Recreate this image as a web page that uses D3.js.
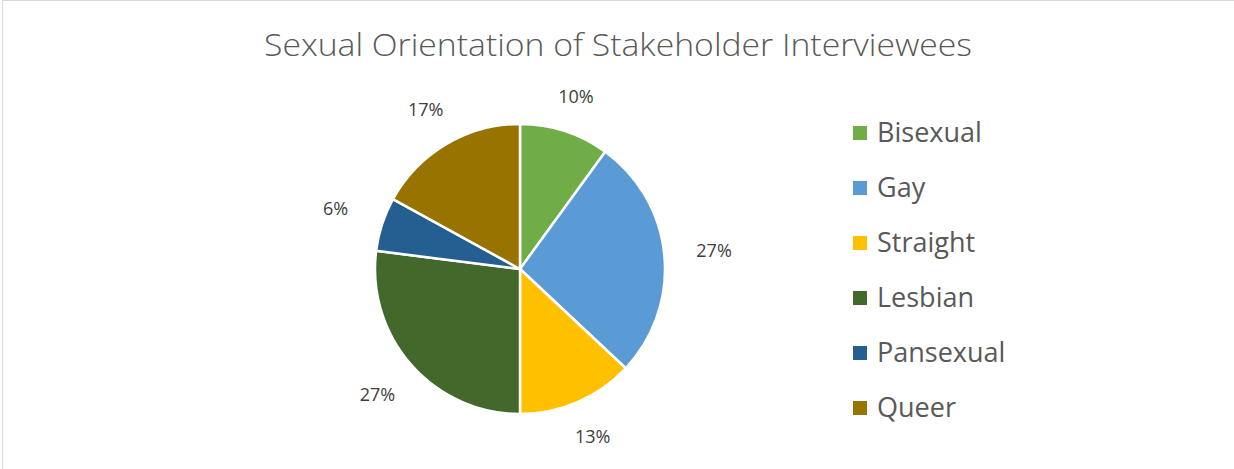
<html>
<head>
<script src="https://d3js.org/d3.v7.min.js"></script>
<style>
  body { margin: 0; background: #fff; }
  text { font-family: "Open Sans", "Liberation Sans", sans-serif; }
</style>
</head>
<body>
<svg width="1234" height="469"></svg>
<script>
const categories = ["Bisexual", "Gay", "Straight", "Lesbian", "Pansexual", "Queer"];
const percents = [10, 27, 13, 27, 6, 17];
const colors = ["#70AD47", "#5B9BD5", "#FFC000", "#43682B", "#255E91", "#997300"];
const title = "Sexual Orientation of Stakeholder Interviewees";

const svg = d3.select("svg");

// chart frame (only top and left edge visible in the crop)
svg.append("rect")
  .attr("x", 2.5).attr("y", 0.5)
  .attr("width", 1300).attr("height", 500)
  .attr("fill", "none")
  .attr("stroke", "#D9D9D9");

svg.append("text")
  .attr("x", 618).attr("y", 56)
  .attr("text-anchor", "middle")
  .style("font-size", "32px")
  .style("font-weight", 300)
  .attr("textLength", 708)
  .attr("lengthAdjust", "spacingAndGlyphs")
  .style("fill", "#595959")
  .text(title);

const cx = 520, cy = 269, r = 145;
const data = categories.map((c, i) => ({ name: c, value: percents[i], color: colors[i] }));

const pie = d3.pie().value(d => d.value).sort(null);
const arc = d3.arc().innerRadius(0).outerRadius(r);

const g = svg.append("g").attr("transform", `translate(${cx},${cy})`);
const arcs = pie(data);

g.selectAll("path")
  .data(arcs)
  .enter()
  .append("path")
  .attr("d", arc)
  .attr("fill", d => d.data.color)
  .attr("stroke", "#fff")
  .attr("stroke-width", 2.5)
  .attr("stroke-linejoin", "round");

// labels sit outside the slice, pushed further out on the sides (text is wider than tall)
function labelPos(d) {
  const a = (d.startAngle + d.endAngle) / 2;
  const dist = r + 30 + 20 * Math.abs(Math.sin(a));
  return [Math.sin(a) * dist, -Math.cos(a) * dist];
}

g.selectAll("text.lbl")
  .data(arcs)
  .enter()
  .append("text")
  .attr("class", "lbl")
  .attr("transform", d => `translate(${labelPos(d)})`)
  .attr("text-anchor", "middle")
  .attr("dy", "0.35em")
  .style("font-size", "18px")
  .style("fill", "#404040")
  .text(d => d.data.value + "%");

// legend
const ly = d3.scalePoint().domain(categories).range([133, 408]);
const leg = svg.append("g");
leg.selectAll("rect")
  .data(data)
  .enter()
  .append("rect")
  .attr("x", 853).attr("y", d => ly(d.name) - 7)
  .attr("width", 14).attr("height", 14)
  .attr("fill", d => d.color);
leg.selectAll("text")
  .data(data)
  .enter()
  .append("text")
  .attr("x", 877).attr("y", d => ly(d.name))
  .attr("dy", "0.35em")
  .style("font-size", "27px")
  .style("fill", "#595959")
  .text(d => d.name);
</script>
</body>
</html>
